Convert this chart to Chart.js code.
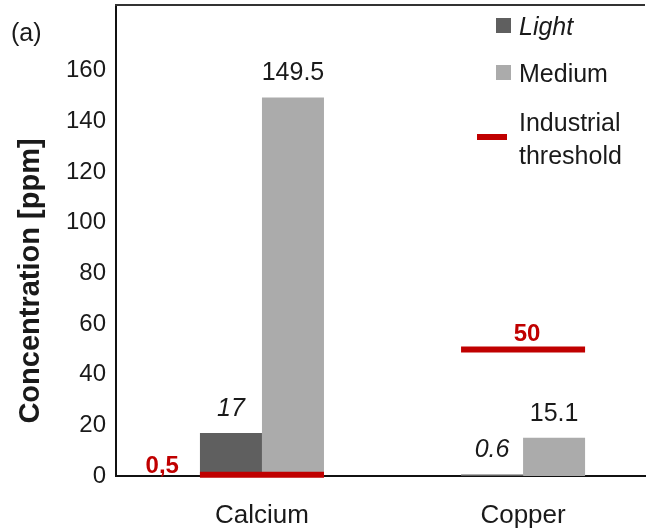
<!DOCTYPE html>
<html>
<head>
<meta charset="utf-8">
<script src="https://cdn.jsdelivr.net/npm/chart.js@4.4.0/dist/chart.umd.min.js"></script>
<style>
  html, body { margin: 0; padding: 0; background: #fff; overflow: hidden; }
  #wrap { position: relative; width: 649px; height: 529px; }
</style>
</head>
<body>
<div id="wrap"><canvas id="c" width="649" height="529"></canvas></div>
<script>
// ---- data ----
const categories = ['Calcium', 'Copper'];
const seriesNames = ['Light', 'Medium'];
const lightValues = [17, 0.6];
const mediumValues = [149.5, 15.1];
const thresholdName = ['Industrial', 'threshold'];
const thresholdValues = [0.5, 50];
const yTicks = [0, 20, 40, 60, 80, 100, 120, 140, 160];
const yAxisTitle = 'Concentration [ppm]';
const panelLabel = '(a)';

// ---- styling ----
const FONT = '"Liberation Sans", Arial, Helvetica, sans-serif';
const TEXT = '#1a1a1a';
const RED = '#c00000';
const barColors = ['#5f5f5f', '#ababab'];
const groupWidth = 0.475;   // share of a category slot taken by one bar group

const barDatasets = [lightValues, mediumValues].map((vals, d) => ({
  type: 'bar',
  label: seriesNames[d],
  data: vals.map((v, i) => ({ x: i, y: v })),
  backgroundColor: barColors[d],
  borderWidth: 0,
  categoryPercentage: groupWidth,
  barPercentage: 1,
  order: 2
}));

// threshold segments spanning each bar group, broken between categories
const thresholdPoints = [];
thresholdValues.forEach((t, i) => {
  thresholdPoints.push({ x: i - groupWidth / 2, y: t });
  thresholdPoints.push({ x: i + groupWidth / 2, y: t });
  thresholdPoints.push({ x: i + 0.5, y: null });
});

const thresholdDataset = {
  type: 'line',
  label: thresholdName.join(' '),
  data: thresholdPoints,
  borderColor: RED,
  borderWidth: 6,
  borderCapStyle: 'butt',
  pointRadius: 0,
  spanGaps: false,
  tension: 0,
  order: 0,
  clip: 6
};

// text, frame and legend drawn over the plot
const overlay = {
  id: 'overlay',
  afterDraw(chart) {
    const ctx = chart.ctx;
    const area = chart.chartArea;
    const xs = chart.scales.x, ys = chart.scales.y;
    ctx.save();

    // top frame line
    ctx.strokeStyle = '#333';
    ctx.lineWidth = 2;
    ctx.beginPath();
    ctx.moveTo(area.left - 1, area.top);
    ctx.lineTo(area.right, area.top);
    ctx.stroke();

    // bar value labels
    ctx.textAlign = 'center';
    ctx.textBaseline = 'alphabetic';
    ctx.fillStyle = TEXT;
    [0, 1].forEach(d => {
      const meta = chart.getDatasetMeta(d);
      meta.data.forEach((bar, i) => {
        const v = chart.data.datasets[d].data[i].y;
        ctx.font = (d === 0 ? 'italic ' : '') + '25px ' + FONT;
        ctx.fillText(String(v), bar.x, bar.y - 17);
      });
    });

    // threshold value labels
    ctx.font = 'bold 24px ' + FONT;
    ctx.fillStyle = RED;
    thresholdValues.forEach((t, i) => {
      const y = ys.getPixelForValue(t);
      const left = xs.getPixelForValue(i - groupWidth / 2);
      const right = xs.getPixelForValue(i + groupWidth / 2);
      const txt = String(t).replace('.', ',');
      if (area.bottom - y < 20) {
        ctx.textAlign = 'right';
        ctx.fillText(txt, left - 21, y - 2);
      } else {
        ctx.textAlign = 'center';
        ctx.fillText(txt, (left + right) / 2 + 4, y - 8);
      }
    });

    // legend
    ctx.textAlign = 'left';
    ctx.fillStyle = barColors[0];
    ctx.fillRect(496, 18, 15, 15);
    ctx.fillStyle = barColors[1];
    ctx.fillRect(496, 65, 15, 15);
    ctx.fillStyle = TEXT;
    ctx.font = 'italic 25px ' + FONT;
    ctx.fillText(seriesNames[0], 519, 35);
    ctx.font = '25px ' + FONT;
    ctx.fillText(seriesNames[1], 519, 82);
    ctx.fillText(thresholdName[0], 519, 131);
    ctx.fillText(thresholdName[1], 519, 164);
    ctx.strokeStyle = RED;
    ctx.lineWidth = 6;
    ctx.beginPath();
    ctx.moveTo(477, 137);
    ctx.lineTo(507, 137);
    ctx.stroke();

    // panel tag
    ctx.font = '25px ' + FONT;
    ctx.fillText(panelLabel, 11, 41);

    // y axis title
    ctx.translate(31, 281);
    ctx.rotate(-Math.PI / 2);
    ctx.textAlign = 'center';
    ctx.textBaseline = 'middle';
    ctx.font = 'bold 29px ' + FONT;
    ctx.fillText(yAxisTitle, 0, 0);
    ctx.restore();
  }
};

new Chart(document.getElementById('c'), {
  data: { datasets: [...barDatasets, thresholdDataset] },
  plugins: [overlay],
  options: {
    responsive: false,
    devicePixelRatio: 1,
    animation: false,
    layout: { padding: { top: 5, right: 4, left: 0, bottom: 0 } },
    plugins: { legend: { display: false }, tooltip: { enabled: false } },
    scales: {
      x: {
        type: 'linear',
        bounds: 'data',
        offset: false,
        min: -0.559,
        max: 1.467,
        grid: { display: false, offset: false, tickLength: 8 },
        border: { display: true, color: '#111', width: 2 },
        afterBuildTicks: s => { s.ticks = categories.map((_, i) => ({ value: i })); },
        ticks: {
          autoSkip: false,
          maxRotation: 0,
          padding: 16,
          color: TEXT,
          font: { family: FONT, size: 26 },
          callback: v => categories[v] ?? ''
        },
        afterFit: s => { s.height = 53; }
      },
      y: {
        type: 'linear',
        min: 0,
        max: 186,
        grid: { display: false, tickLength: 10 },
        border: { display: true, color: '#111', width: 2 },
        afterBuildTicks: s => { s.ticks = yTicks.map(v => ({ value: v })); },
        ticks: {
          padding: 0,
          color: TEXT,
          font: { family: FONT, size: 24, lineHeight: 0.4 },
          callback: v => String(v)
        },
        afterFit: s => { s.width = 116; }
      }
    }
  }
});
</script>
</body>
</html>
